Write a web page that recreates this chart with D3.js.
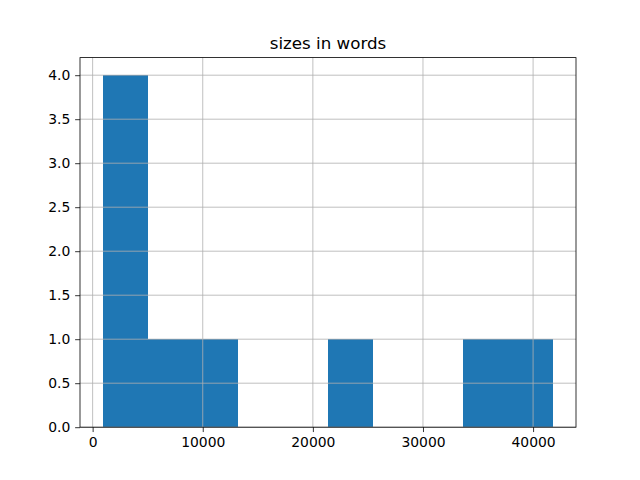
<!DOCTYPE html>
<html>
<head>
<meta charset="utf-8">
<script src="https://cdn.jsdelivr.net/npm/d3@7"></script>
<style>
body{margin:0;background:#fff;}
text{font-family:"DejaVu Sans",sans-serif;}
</style>
</head>
<body>
<svg id="c" width="640" height="480"></svg>
<script>
const title = "sizes in words";
const binStart = 900;
const binEnd = 41850;
const counts = [4, 1, 1, 0, 0, 1, 0, 0, 1, 1];
const xTicks = [0, 10000, 20000, 30000, 40000];
const yTicks = [0.0, 0.5, 1.0, 1.5, 2.0, 2.5, 3.0, 3.5, 4.0];

const svg = d3.select("#c");
const L = 80, R = 576, T = 57.6, B = 427.2;
const nb = counts.length;
const bw = (binEnd - binStart) / nb;
const edges = d3.range(nb + 1).map(i => binStart + i * bw);
const pad = (binEnd - binStart) * 0.05;
const x = d3.scale = d3.scaleLinear().domain([binStart - pad, binEnd + pad]).range([L, R]);
const y = d3.scaleLinear().domain([0, d3.max(counts) * 1.05]).range([B, T]);

svg.append("rect").attr("x", 0).attr("y", 0).attr("width", 640).attr("height", 480).attr("fill", "#fff");

// bars
svg.append("g").selectAll("rect").data(counts).join("rect")
  .attr("x", (d, i) => x(edges[i]))
  .attr("width", (d, i) => x(edges[i + 1]) - x(edges[i]))
  .attr("y", d => y(d))
  .attr("height", d => y(0) - y(d))
  .attr("fill", "#1f77b4")
  .attr("shape-rendering", "crispEdges");

// grid (over bars, like matplotlib)
const grid = svg.append("g").attr("stroke", "#b0b0b0").attr("stroke-width", 0.8);
xTicks.forEach(t => grid.append("line").attr("x1", x(t)).attr("x2", x(t)).attr("y1", T).attr("y2", B));
yTicks.forEach(t => grid.append("line").attr("x1", L).attr("x2", R).attr("y1", y(t)).attr("y2", y(t)));

// axes
const xAxis = d3.axisBottom(x).tickValues(xTicks).tickFormat(d3.format("d")).tickSizeInner(4.86).tickSizeOuter(0).tickPadding(4.86);
const yAxis = d3.axisLeft(y).tickValues(yTicks).tickFormat(d3.format(".1f")).tickSizeInner(4.86).tickSizeOuter(0).tickPadding(4.86);
const gx = svg.append("g").attr("transform", `translate(0,${B})`).call(xAxis);
const gy = svg.append("g").attr("transform", `translate(${L},0)`).call(yAxis);
[gx, gy].forEach(g => {
  g.select(".domain").remove();
  g.selectAll(".tick line").attr("stroke", "#000").attr("stroke-width", 0.8);
  g.selectAll(".tick text").attr("fill", "#000").style("font-size", "13.9px").style("font-family", "DejaVu Sans");
});

// frame
svg.append("rect").attr("x", L).attr("y", T).attr("width", R - L).attr("height", B - T)
  .attr("fill", "none").attr("stroke", "#000").attr("stroke-width", 0.8);

svg.append("text").attr("x", (L + R) / 2).attr("y", T - 8.3)
  .attr("text-anchor", "middle").style("font-size", "16.7px").attr("fill", "#000").text(title);
</script>
</body>
</html>
